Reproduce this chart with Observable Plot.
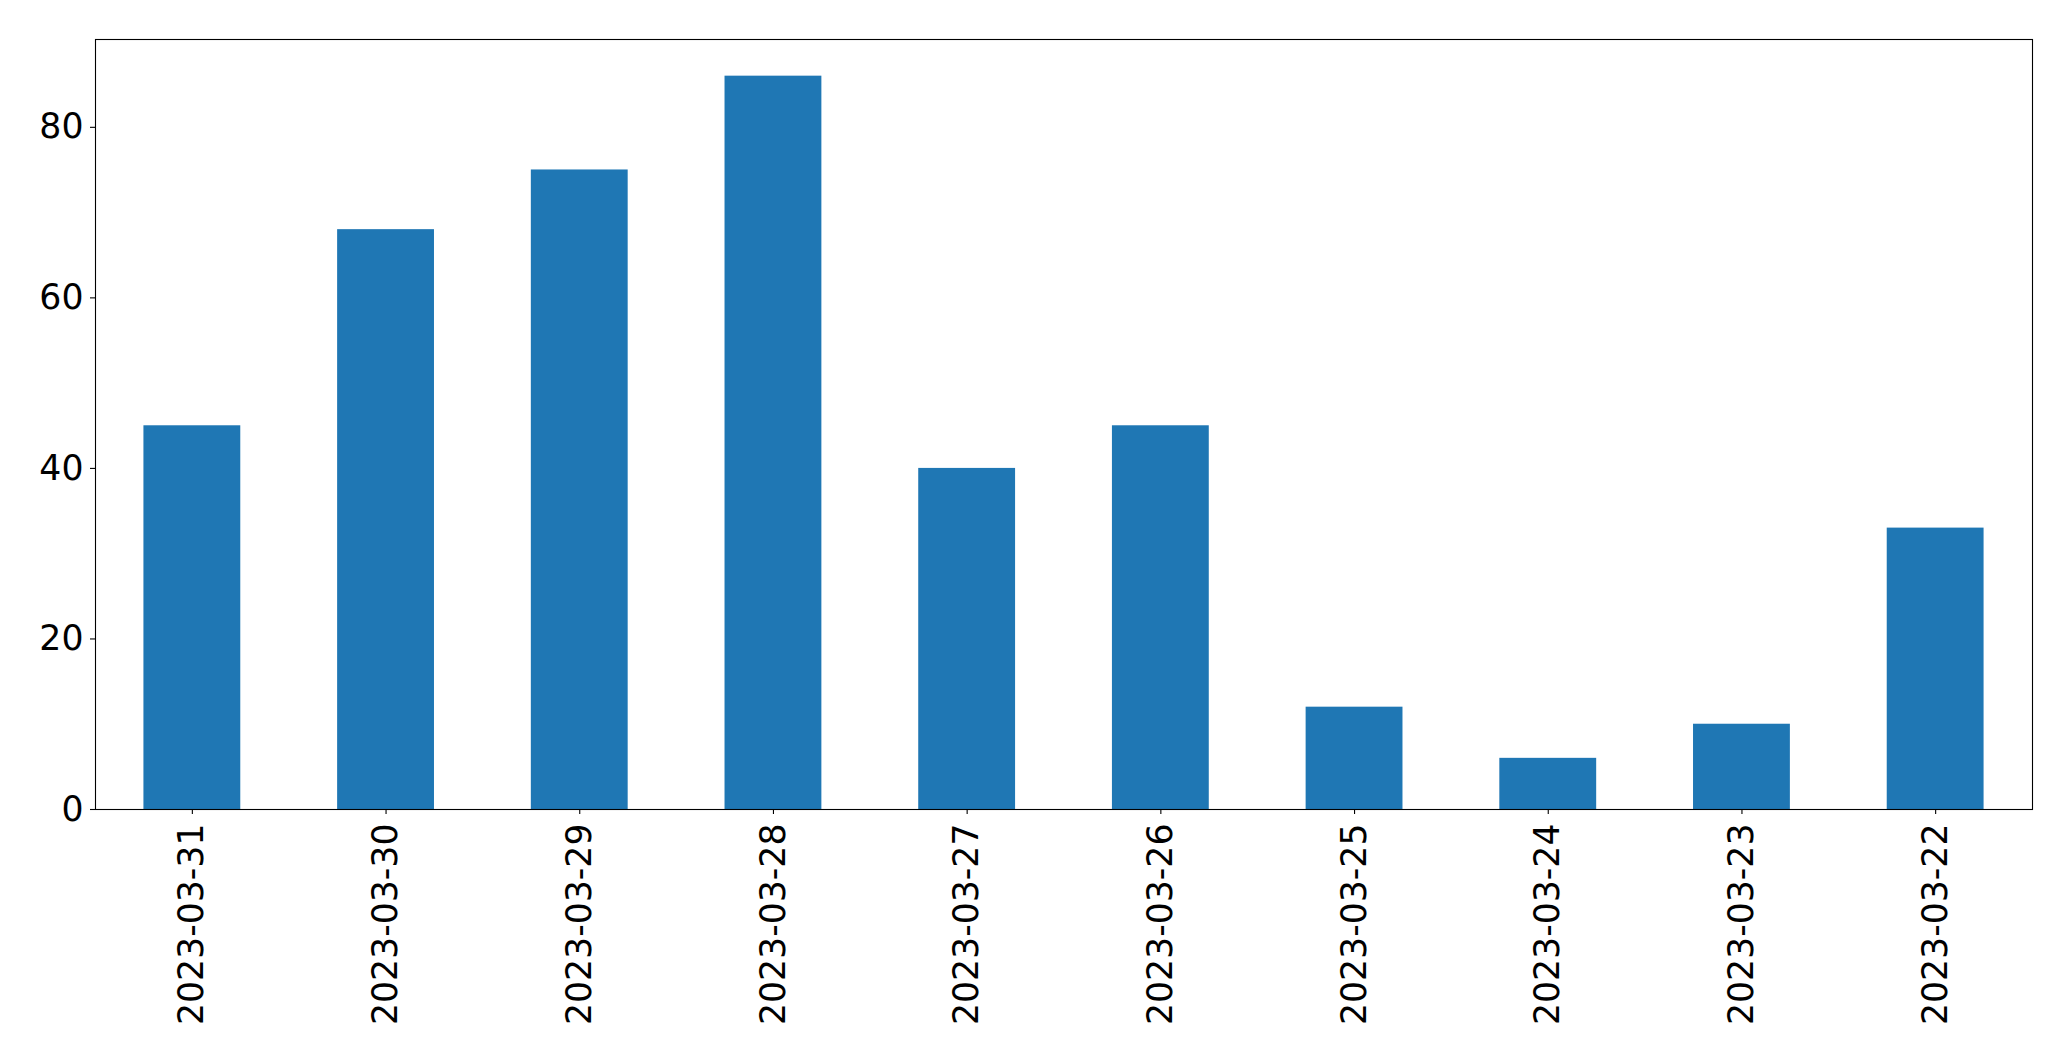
<!DOCTYPE html>
<html>
<head>
<meta charset="utf-8">
<script src="https://cdn.jsdelivr.net/npm/d3@7"></script>
<script src="https://cdn.jsdelivr.net/npm/@observablehq/plot@0.6"></script>
<style>
  html, body { margin: 0; padding: 0; background: #fff; }
  svg { display: block; }
</style>
</head>
<body>
<div id="chart"></div>
<script>
const dates = ["2023-03-31", "2023-03-30", "2023-03-29", "2023-03-28", "2023-03-27",
               "2023-03-26", "2023-03-25", "2023-03-24", "2023-03-23", "2023-03-22"];
const counts = [45, 68, 75, 86, 40, 45, 12, 6, 10, 33];
const yTicks = [0, 20, 40, 60, 80];

const data = dates.map((d, i) => ({date: d, count: counts[i]}));

const chart = Plot.plot({
  width: 2071,
  height: 1061,
  marginLeft: 95,
  marginRight: 39,
  marginTop: 39,
  marginBottom: 252,
  style: {fontFamily: "DejaVu Sans", fontSize: "34.7px", color: "#000", background: "#fff"},
  x: {domain: dates, paddingInner: 0.5, paddingOuter: 0.25, round: false, label: null},
  y: {domain: [0, 86 * 1.05], label: null},
  marks: [
    Plot.barY(data, {x: "date", y: "count", fill: "#1f77b4"}),
    Plot.axisY({ticks: yTicks, tickSize: 5, tickPadding: 7, label: null, fontSize: "34.7px", stroke: "#000", strokeWidth: 1.1}),
    Plot.axisX({tickSize: 5, tickPadding: 9, tickRotate: -90, label: null, fontSize: "34.7px", stroke: "#000", strokeWidth: 1.1}),
    Plot.frame({stroke: "#000", strokeWidth: 1.1})
  ]
});
document.getElementById("chart").appendChild(chart);
</script>
</body>
</html>
